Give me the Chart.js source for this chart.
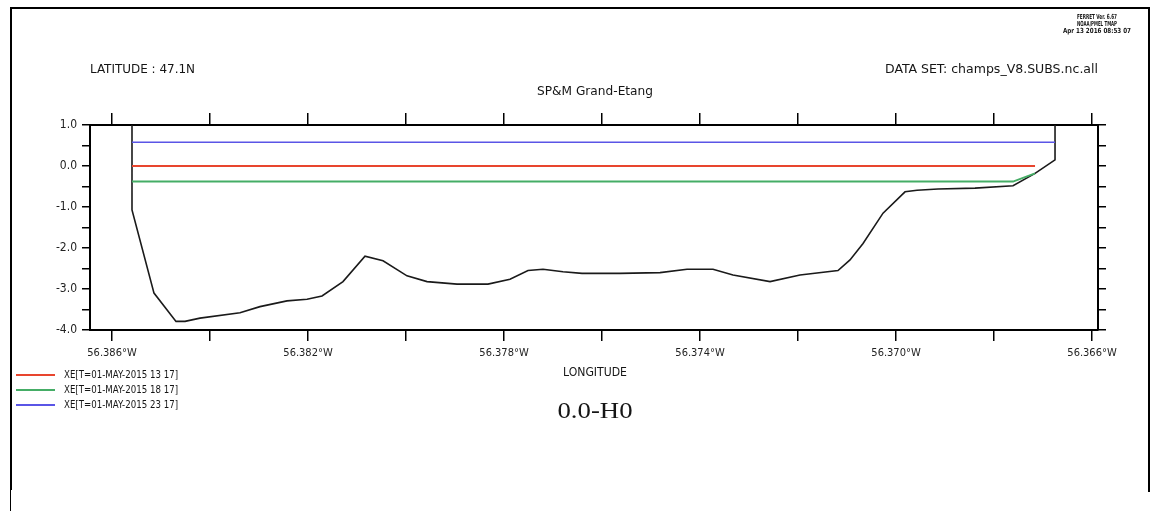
<!DOCTYPE html>
<html lang="en">
<head>
<meta charset="UTF-8">
<title>SP&amp;M Grand-Etang</title>
<script src="https://cdn.jsdelivr.net/npm/chart.js@4.4.0/dist/chart.umd.min.js"></script>
<style>
    html, body { margin: 0; padding: 0; background: #fff; }
    #wrap { width: 1150px; height: 511px; position: relative; }
</style>
</head>
<body>
<div id="wrap"><canvas id="c" width="1150" height="511"></canvas></div>
<script>
// longitude (negative = west) and value of the bottom profile
const bathyLon = [-56.385592, -56.385592, -56.385143, -56.384694, -56.384510, -56.384204, -56.383388,
    -56.382980, -56.382429, -56.382020, -56.381714, -56.381286, -56.380837, -56.380469, -56.379980,
    -56.379571, -56.378959, -56.378327, -56.377878, -56.377510, -56.377204, -56.376796, -56.376408,
    -56.375633, -56.374816, -56.374265, -56.373735, -56.373327, -56.372571, -56.371959, -56.371184,
    -56.370939, -56.370673, -56.370265, -56.369816, -56.369571, -56.369143, -56.368388, -56.367612,
    -56.367163, -56.366755, -56.366755];
const bathyVal = [1.0, -1.07, -3.10, -3.79, -3.79, -3.71, -3.58,
    -3.43, -3.29, -3.25, -3.17, -2.82, -2.20, -2.31, -2.68,
    -2.82, -2.88, -2.88, -2.76, -2.55, -2.52, -2.58, -2.62,
    -2.62, -2.60, -2.52, -2.52, -2.66, -2.82, -2.66, -2.55,
    -2.29, -1.89, -1.15, -0.63, -0.59, -0.56, -0.54, -0.48,
    -0.18, 0.15, 1.0];

// surface elevation at the three times
const redLon = [-56.385592, -56.367163];
const redVal = [0.0, 0.0];
const greenLon = [-56.385592, -56.367612, -56.367163];
const greenVal = [-0.38, -0.38, -0.18];
const blueLon = [-56.385592, -56.366755];
const blueVal = [0.58, 0.58];

const legendLabels = ['XE[T=01-MAY-2015 13 17]', 'XE[T=01-MAY-2015 18 17]', 'XE[T=01-MAY-2015 23 17]'];

const xTickValues = [-56.386, -56.384, -56.382, -56.380, -56.378, -56.376, -56.374, -56.372, -56.370, -56.368, -56.366];
const xTickLabels = ['56.386°W', '', '56.382°W', '', '56.378°W', '', '56.374°W', '', '56.370°W', '', '56.366°W'];
const yTickValues = [1.0, 0.5, 0.0, -0.5, -1.0, -1.5, -2.0, -2.5, -3.0, -3.5, -4.0];
const yTickLabels = ['1.0', '', '0.0', '', '-1.0', '', '-2.0', '', '-3.0', '', '-4.0'];

const RED = '#e8452e', GREEN = '#45ad66', BLUE = '#5a55e6';
const FONT = "'DejaVu Sans Condensed', 'DejaVu Sans', sans-serif";

const pts = (xs, ys) => xs.map((x, i) => ({ x: x, y: ys[i] }));

// draw a text, optionally squeezed to a given width
function txt(ctx, s, x, y, font, align, w) {
    ctx.save();
    ctx.font = font;
    ctx.fillStyle = '#151515';
    ctx.textBaseline = 'middle';
    ctx.textAlign = 'left';
    const m = ctx.measureText(s).width;
    const ww = w || m;
    let x0 = x;
    if (align === 'center') x0 = x - ww / 2;
    if (align === 'right') x0 = x - ww;
    ctx.translate(x0, y);
    ctx.scale(ww / m, 1);
    ctx.fillText(s, 0, 0);
    ctx.restore();
}

const decor = {
    id: 'decor',
    afterDraw(chart) {
        const ctx = chart.ctx;
        ctx.save();
        // outer frame
        ctx.strokeStyle = '#000';
        ctx.lineWidth = 2;
        ctx.beginPath();
        ctx.moveTo(11, 490); ctx.lineTo(11, 8); ctx.lineTo(1149, 8); ctx.lineTo(1149, 492);
        ctx.stroke();
        ctx.lineWidth = 1;
        ctx.beginPath();
        ctx.moveTo(10.5, 490); ctx.lineTo(10.5, 511);
        ctx.stroke();

        // header texts
        txt(ctx, 'FERRET Ver. 6.67', 1097, 17, 'bold 7px ' + FONT, 'center', 40);
        txt(ctx, 'NOAA/PMEL TMAP', 1097, 24, 'bold 7px ' + FONT, 'center', 40);
        txt(ctx, 'Apr 13 2016 08:53 07', 1097, 31, 'bold 7px ' + FONT, 'center', 68);
        txt(ctx, 'LATITUDE : 47.1N', 90, 70, '13px ' + FONT, 'left', 105);
        txt(ctx, 'DATA SET: champs_V8.SUBS.nc.all', 1098, 70, '13px ' + FONT, 'right', 213);
        txt(ctx, 'SP&M Grand-Etang', 595, 92, '12px ' + FONT, 'center', 116);
        txt(ctx, 'LONGITUDE', 595, 373, '12px ' + FONT, 'center', 64);
        txt(ctx, '0.0-H0', 595, 412, "24px 'Liberation Serif', 'DejaVu Serif', serif", 'center', 75);

        // legend
        const cols = [RED, GREEN, BLUE];
        legendLabels.forEach((l, i) => {
            const y = 375 + i * 15;
            ctx.strokeStyle = cols[i];
            ctx.lineWidth = 2;
            ctx.beginPath();
            ctx.moveTo(16, y); ctx.lineTo(55, y);
            ctx.stroke();
            txt(ctx, l, 64, y, '11px ' + FONT, 'left', 114);
        });
        ctx.restore();
    }
};

const axisBorder = { display: true, color: '#000', width: 2 };

new Chart(document.getElementById('c'), {
    type: 'line',
    data: {
        datasets: [
            { data: pts(bathyLon, bathyVal), borderColor: '#1a1a1a', borderWidth: 1.6, order: 4 },
            { data: pts(redLon, redVal), borderColor: RED, borderWidth: 2, order: 3 },
            { data: pts(greenLon, greenVal), borderColor: GREEN, borderWidth: 2, order: 1 },
            { data: pts(blueLon, blueVal), borderColor: BLUE, borderWidth: 1.6, order: 2 }
        ]
    },
    options: {
        responsive: false,
        animation: false,
        events: [],
        elements: { point: { radius: 0 }, line: { tension: 0 } },
        layout: { padding: 0 },
        plugins: { legend: { display: false }, title: { display: false }, tooltip: { enabled: false } },
        scales: {
            x: {
                type: 'linear', position: 'bottom',
                min: -56.386449, max: -56.365878,
                afterBuildTicks: s => { s.ticks = xTickValues.map(v => ({ value: v })); },
                afterFit: s => { s.height = 181; },
                ticks: {
                    autoSkip: false, maxRotation: 0, padding: 6, color: '#222',
                    font: { family: FONT, size: 11 },
                    callback: (v, i) => xTickLabels[i]
                },
                grid: { drawOnChartArea: false, drawTicks: true, tickLength: 11, color: '#000', lineWidth: 1.5 },
                border: axisBorder
            },
            xTop: {
                type: 'linear', position: 'top',
                min: -56.386449, max: -56.365878,
                afterBuildTicks: s => { s.ticks = xTickValues.map(v => ({ value: v })); },
                afterFit: s => { s.height = 125; },
                ticks: { display: false },
                grid: { drawOnChartArea: false, drawTicks: true, tickLength: 12, color: '#000', lineWidth: 1.5 },
                border: axisBorder
            },
            y: {
                type: 'linear', position: 'left',
                min: -4, max: 1,
                afterBuildTicks: s => { s.ticks = yTickValues.map(v => ({ value: v })); },
                afterFit: s => { s.width = 90; },
                ticks: {
                    autoSkip: false, padding: 5, color: '#222',
                    font: { family: FONT, size: 12 },
                    callback: (v, i) => yTickLabels[i]
                },
                grid: { drawOnChartArea: false, drawTicks: true, tickLength: 8, color: '#000', lineWidth: 1.5 },
                border: axisBorder
            },
            yRight: {
                type: 'linear', position: 'right',
                min: -4, max: 1,
                afterBuildTicks: s => { s.ticks = yTickValues.map(v => ({ value: v })); },
                afterFit: s => { s.width = 52; },
                ticks: { display: false },
                grid: { drawOnChartArea: false, drawTicks: true, tickLength: 8, color: '#000', lineWidth: 1.5 },
                border: axisBorder
            }
        }
    },
    plugins: [decor]
});
</script>
</body>
</html>
